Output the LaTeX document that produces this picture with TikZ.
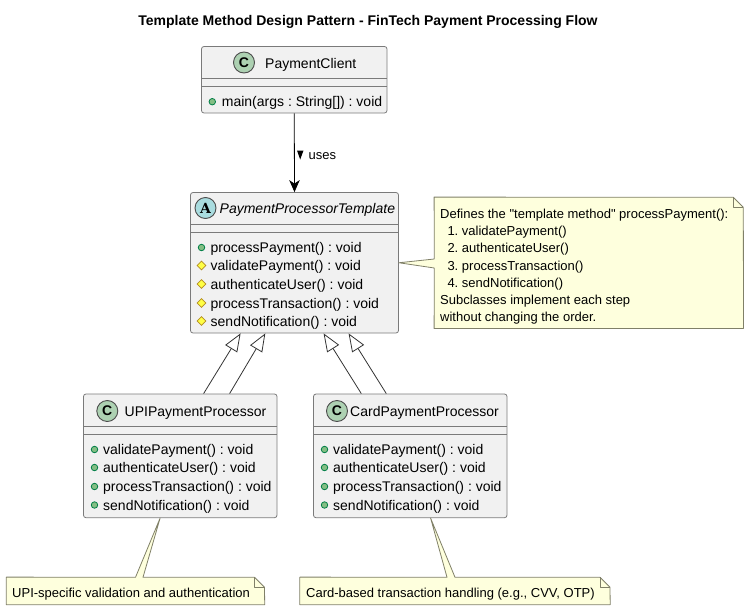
\documentclass[tikz,border=0pt]{standalone}
\usepackage{fontspec}
\setmainfont{Liberation Sans}[Ligatures={TeXOff,NoCommon}]
\usetikzlibrary{arrows.meta,calc,shapes.geometric}
\definecolor{boxfill}{HTML}{F1F1F1}
\definecolor{boxline}{HTML}{7A7A7A}
\definecolor{notefill}{HTML}{FEFFDD}
\definecolor{noteline}{HTML}{808068}
\definecolor{cgreen}{HTML}{ADD1B2}
\definecolor{acyan}{HTML}{A9DCDF}
\definecolor{pubfill}{HTML}{84BE84}
\definecolor{publine}{HTML}{038048}
\definecolor{protfill}{HTML}{FFFF44}
\definecolor{protline}{HTML}{B38D22}
\tikzset{
  x=1pt,y=-1pt,
  umlbox/.style={draw=boxline,fill=boxfill,line width=0.8pt,rounded corners=2.5pt,inner sep=0pt,minimum width=#1},
  divider/.style={draw=boxline,line width=0.8pt},
  memb/.style={anchor=base west,inner sep=0pt,font=\frenchspacing\fontsize{14}{16}\selectfont},
  cname/.style={anchor=base west,inner sep=0pt,font=\fontsize{14}{16}\selectfont},
  notetext/.style={anchor=base west,inner sep=0pt,font=\frenchspacing\fontsize{13}{15}\selectfont},
  notebody/.style={draw=noteline,fill=notefill,line width=0.8pt,line join=round},
  badge/.style={circle,draw=black!70,line width=0.9pt,minimum size=21pt,inner sep=0pt,font=\bfseries\fontsize{14}{16}\selectfont},
  pubmark/.style={circle,draw=publine,fill=pubfill,line width=0.8pt,minimum size=6.5pt,inner sep=0pt},
  protmark/.style={diamond,draw=protline,fill=protfill,line width=0.8pt,minimum size=9pt,inner sep=0pt},
  inherit/.style={draw=black!80,line width=0.8pt,-{Triangle[open,length=18pt,width=14pt,fill=white]}},
  uses/.style={draw=black,line width=0.8pt,-{Stealth[length=12pt,width=10.5pt,inset=3.5pt]}},
}
\newfontfamily\slabfont{DejaVu Serif}
\begin{document}
\begin{tikzpicture}
\useasboundingbox (0,0) rectangle (749,610);
\node[anchor=base,inner sep=0pt,font=\frenchspacing\bfseries\fontsize{14}{16}\selectfont] (title) at (368,25.5) {Template Method Design Pattern - FinTech Payment Processing Flow};

% PaymentClient
\node[umlbox=185.5pt,minimum height=66.5pt] (client) at (294.25,79.75) {};
\draw[divider] (201.5,78.3) -- (387,78.3) (201.5,86) -- (387,86);
\node[badge,fill=cgreen] (clientb) at (244,62.5) {C};
\node[cname] (clientn) at (265,68) {PaymentClient};
\node[pubmark] (clientm0) at (212.3,101.7) {};
\node[memb] (clientt0) at (221.7,106.5) {main(args : String[]) : void};

% Template
\node[umlbox=208pt,minimum height=140.5pt] (tmpl) at (294.5,262.75) {};
\draw[divider] (190.5,224.3) -- (398.5,224.3) (190.5,232.3) -- (398.5,232.3);
\node[badge,fill=acyan,font=\slabfont\bfseries\fontsize{14}{16}\selectfont] (tmplb) at (205.5,208) {A};
\node[cname,font=\itshape\fontsize{14}{16}\selectfont] (tmpln) at (219.5,213) {PaymentProcessorTemplate};
\node[pubmark] (tm0) at (201.5,247.5) {};
\node[protmark] (tm1) at (201.5,265.5) {};
\node[protmark] (tm2) at (201.5,284) {};
\node[protmark] (tm3) at (201.5,303) {};
\node[protmark] (tm4) at (201.5,321) {};
\node[memb] (tt0) at (210.5,252) {processPayment() : void};
\node[memb] (tt1) at (210.5,270) {validatePayment() : void};
\node[memb] (tt2) at (210.5,289) {authenticateUser() : void};
\node[memb] (tt3) at (210.5,308) {processTransaction() : void};
\node[memb] (tt4) at (210.5,326) {sendNotification() : void};

% UPI
\node[umlbox=193.5pt,minimum height=123.7pt] (upi) at (180.25,455.85) {};
\draw[divider] (83.5,426.7) -- (277,426.7) (83.5,434.7) -- (277,434.7);
\node[badge,fill=cgreen] (upib) at (107.3,411) {C};
\node[cname] (upin) at (124.5,416.5) {UPIPaymentProcessor};
\node[pubmark] (um0) at (94.5,449.5) {};
\node[pubmark] (um1) at (94.5,467.5) {};
\node[pubmark] (um2) at (94.5,486.5) {};
\node[pubmark] (um3) at (94.5,505) {};
\node[memb] (ut0) at (103,454) {validatePayment() : void};
\node[memb] (ut1) at (103,472.5) {authenticateUser() : void};
\node[memb] (ut2) at (103,491) {processTransaction() : void};
\node[memb] (ut3) at (103,510) {sendNotification() : void};

% Card
\node[umlbox=193.5pt,minimum height=123.7pt] (card) at (410.25,455.85) {};
\draw[divider] (313.5,426.7) -- (507,426.7) (313.5,434.7) -- (507,434.7);
\node[badge,fill=cgreen] (cardb) at (337,411) {C};
\node[cname] (cardn) at (350,416.5) {CardPaymentProcessor};
\node[pubmark] (cm0) at (324.5,449.5) {};
\node[pubmark] (cm1) at (324.5,467.5) {};
\node[pubmark] (cm2) at (324.5,486.5) {};
\node[pubmark] (cm3) at (324.5,505) {};
\node[memb] (ct0) at (333,454) {validatePayment() : void};
\node[memb] (ct1) at (333,472.5) {authenticateUser() : void};
\node[memb] (ct2) at (333,491) {processTransaction() : void};
\node[memb] (ct3) at (333,510) {sendNotification() : void};

% Connectors
\draw[uses] (client.south) -- (tmpl.north);
\fill[black] (297,150.5) -- (303.5,150.5) -- (300.2,159.5) -- cycle;
\node[notetext] (useslabel) at (308.5,159.5) {uses};
\draw[inherit] ($(upi.north west)+(120.5,0)$) -- ($(tmpl.south west)+(50.5,0)$);
\draw[inherit] ($(upi.north west)+(146.5,0)$) -- ($(tmpl.south west)+(75.2,0)$);
\draw[inherit] ($(card.north west)+(48.2,0)$) -- ($(tmpl.south west)+(133.5,0)$);
\draw[inherit] ($(card.north west)+(73.2,0)$) -- ($(tmpl.south west)+(158.5,0)$);

% Note on template
\node[inner sep=0pt,minimum width=309pt,minimum height=131pt] (note1) at (588.8,262.8) {};
\path[notebody] (note1.north west) -- (733.3,197.3) -- (743.3,207.3) -- (note1.south east) -- (note1.south west) -- (434.3,268) -- (tmpl.east) -- (434.3,259) -- cycle;
\draw[notebody,fill=none] (733.3,197.3) -- (733.3,207.3) -- (743.3,207.3);
\node[notetext] (n1a) at (440,218.5) {Defines the "template method" processPayment():};
\node[notetext] (n1b) at (447.3,235.5) {1. validatePayment()};
\node[notetext] (n1c) at (447.3,252.5) {2. authenticateUser()};
\node[notetext] (n1d) at (447.3,270) {3. processTransaction()};
\node[notetext] (n1e) at (447.3,287) {4. sendNotification()};
\node[notetext] (n1f) at (440,304) {Subclasses implement each step};
\node[notetext] (n1g) at (440,321) {without changing the order.};

% Note on UPI
\node[inner sep=0pt,minimum width=258pt,minimum height=27.2pt] (note2) at (135.5,590.9) {};
\path[notebody] (note2.north west) -- (135.5,577.3) -- ($(upi.south west)+(77,0)$) -- (143,577.3) -- (254.5,577.3) -- (264.5,587.3) -- (note2.south east) -- (note2.south west) -- cycle;
\draw[notebody,fill=none] (254.5,577.3) -- (254.5,587.3) -- (264.5,587.3);
\node[notetext] (n2a) at (12,597) {UPI-specific validation and authentication};

% Note on Card
\node[inner sep=0pt,minimum width=310pt,minimum height=27.2pt] (note3) at (455,590.9) {};
\path[notebody] (note3.north west) -- (447,577.3) -- ($(card.south west)+(117.5,0)$) -- (455,577.3) -- (600,577.3) -- (610,587.3) -- (note3.south east) -- (note3.south west) -- cycle;
\draw[notebody,fill=none] (600,577.3) -- (600,587.3) -- (610,587.3);
\node[notetext] (n3a) at (306,597) {Card-based transaction handling (e.g., CVV, OTP)};
\end{tikzpicture}
\end{document}
